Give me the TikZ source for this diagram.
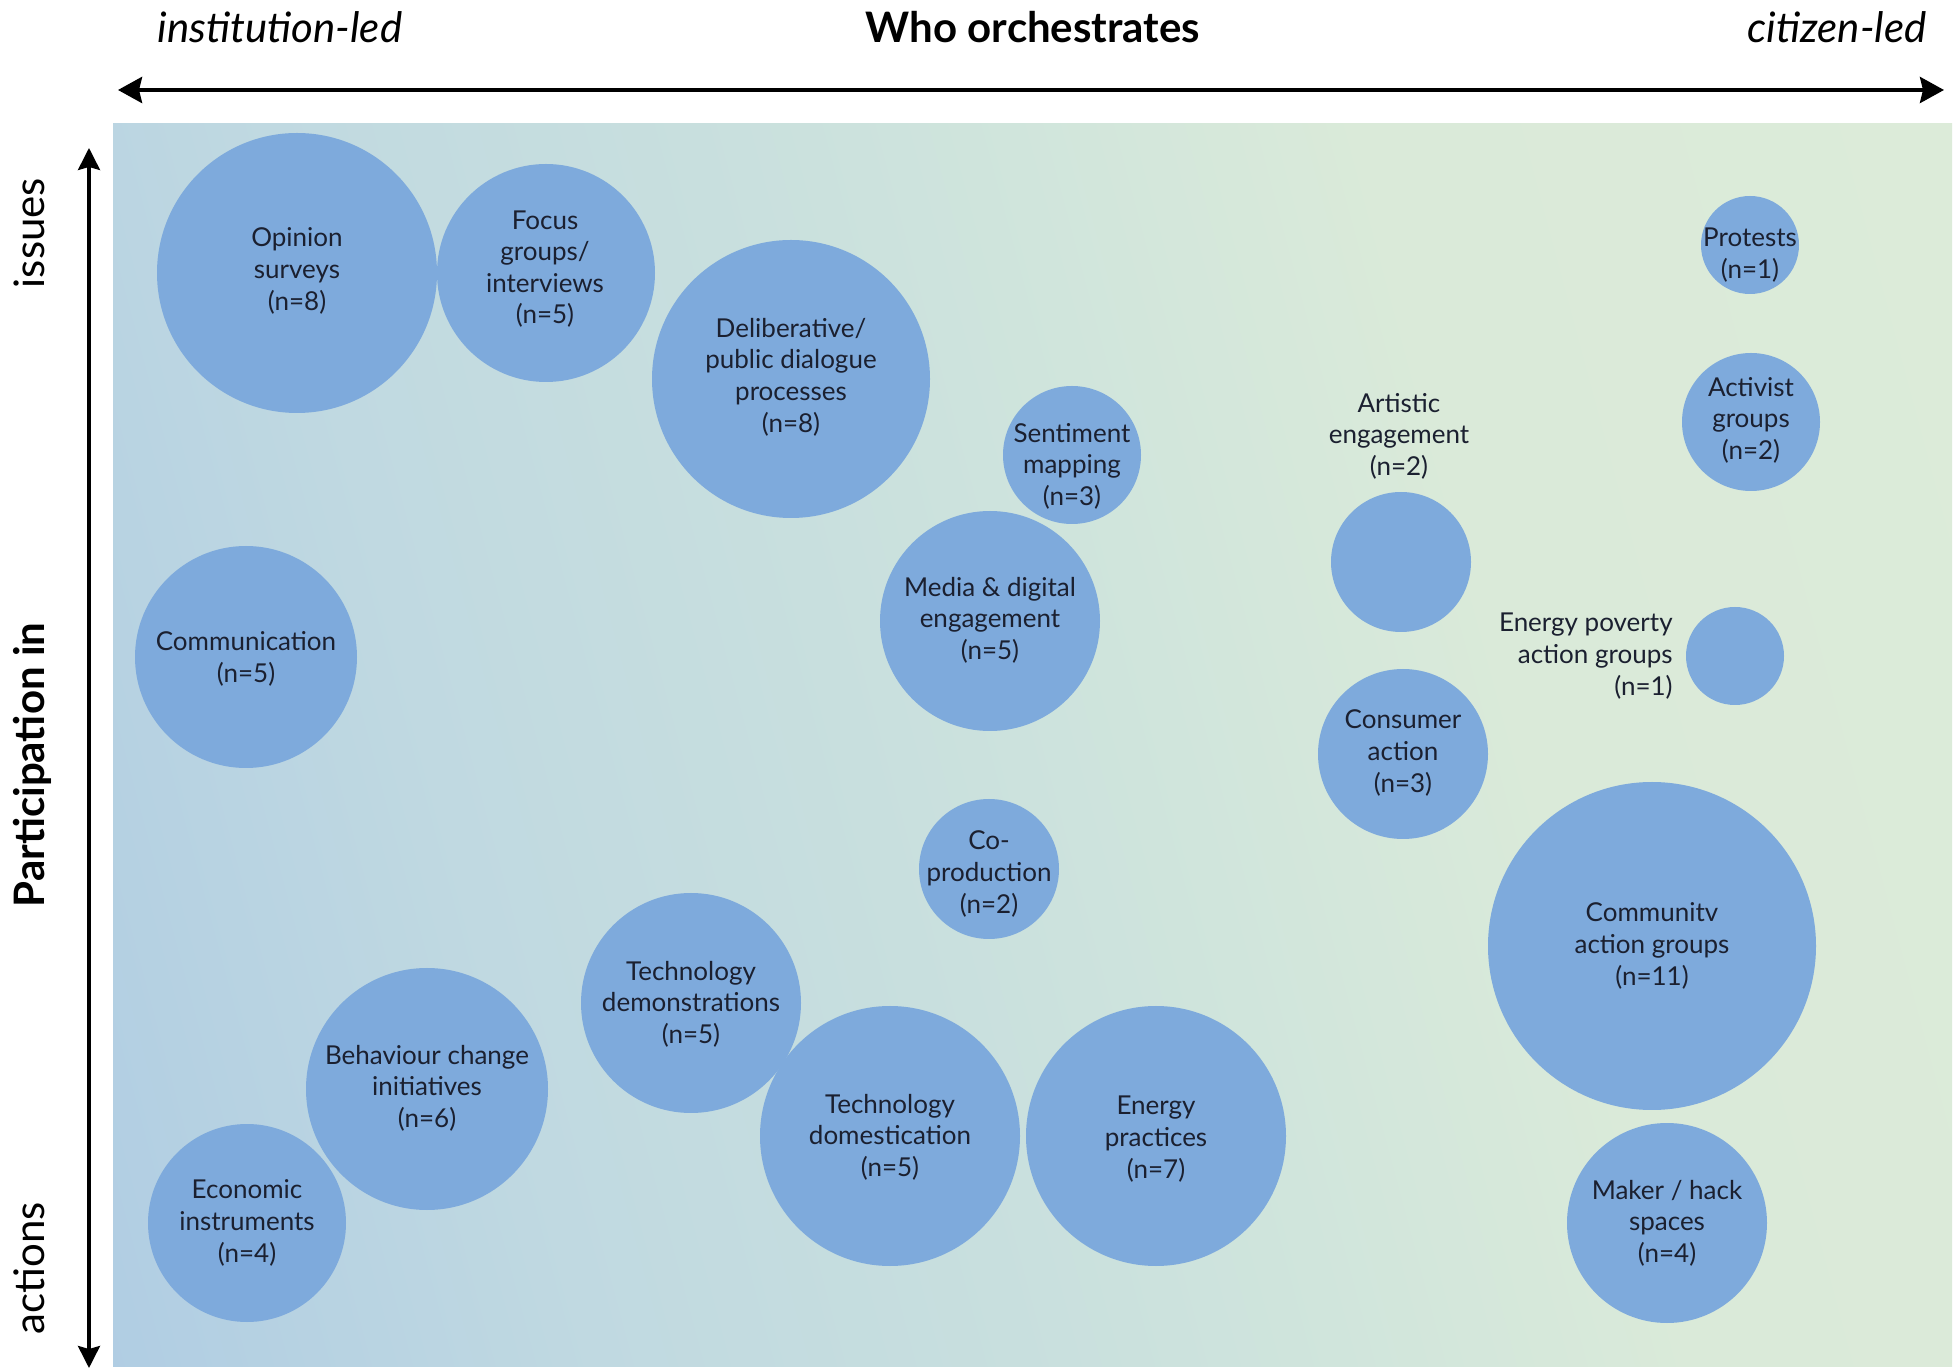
\documentclass[tikz,border=0pt]{standalone}
\usepackage{fontspec}
\setmainfont{Lato}
\usetikzlibrary{arrows.meta}
\definecolor{bubblefill}{HTML}{7EAADC}
\definecolor{txt}{HTML}{1B2030}
\definecolor{bgA}{HTML}{ADCBE3}
\definecolor{bgB}{HTML}{B0CDE3}
\definecolor{bgC}{HTML}{B8D3E2}
\definecolor{bgD}{HTML}{C0D9E1}
\definecolor{bgE}{HTML}{C8DFDE}
\definecolor{bgF}{HTML}{D0E5DC}
\definecolor{bgG}{HTML}{DAEAD9}
\definecolor{bgH}{HTML}{DEECD8}
\pgfdeclarehorizontalshading{bgshade}{100bp}{color(0bp)=(bgA); color(19bp)=(bgB); color(26bp)=(bgC); color(33bp)=(bgD); color(45bp)=(bgE); color(54bp)=(bgF); color(64bp)=(bgG); color(100bp)=(bgH)}
\begin{document}
\begin{tikzpicture}[x=0.5pt, y=-0.5pt,
  bubble/.style={circle, fill=bubblefill, inner sep=0pt, minimum size={#1pt}},
  btext/.style={align=center, text=txt, font=\fontsize{13pt}{15.8pt}\selectfont, inner sep=0pt},
  head/.style={text=black, font=\fontsize{21pt}{25pt}\selectfont, inner sep=0pt, anchor=base},
  axisline/.style={line width=2pt, {Stealth[length=12pt,width=13pt,inset=1.5pt]}-{Stealth[length=12pt,width=13pt,inset=1.5pt]}},
  vaxisline/.style={line width=1.6pt, {Stealth[length=11pt,width=11pt,inset=1.5pt]}-{Stealth[length=11pt,width=11pt,inset=1.5pt]}}
]
\useasboundingbox (0,0) rectangle (1956,1368);
\fill[white] (0,0) rectangle (1956,1368);
\shade[shading=bgshade, shading angle=15] (113,124) rectangle (1952,1366);

% axes
\coordinate (xl) at (118,90);
\coordinate (xr) at (1944,90);
\coordinate (yt) at (89,148);
\coordinate (yb) at (89,1368);
\draw[axisline] (xl) -- (xr);
\draw[vaxisline] (yt) -- (yb);

% headers
\node[head, font=\fontsize{21pt}{25pt}\selectfont\itshape] (hinst) at (280,43) {institution-led};
\node[head, font=\fontsize{21pt}{25pt}\selectfont\bfseries] (hwho) at (1033,43) {Who orchestrates};
\node[head, anchor=base east, font=\fontsize{21pt}{25pt}\selectfont\itshape] (hcit) at (1927,43) {citizen-led};
\node[head, rotate=90] (vissues) at (45,233) {issues};
\node[head, rotate=90, font=\fontsize{21pt}{25pt}\selectfont\bfseries] (vpart) at (45,765) {Participation in};
\node[head, rotate=90] (vactions) at (45,1268) {actions};

% bubbles
\node[bubble=140] (opinion) at (297,273) {};
\node[bubble=109] (focus) at (546,273) {};
\node[bubble=139] (delib) at (791,379) {};
\node[bubble=69] (senti) at (1072,455) {};
\node[bubble=110] (media) at (990,621) {};
\node[bubble=111] (comm) at (246,657) {};
\node[bubble=70] (coprod) at (989,869) {};
\node[bubble=110] (techdemo) at (691,1003) {};
\node[bubble=121] (behav) at (427,1089) {};
\node[bubble=99] (econ) at (247,1223) {};
\node[bubble=130] (techdom) at (890,1136) {};
\node[bubble=130] (enprac) at (1156,1136) {};
\node[bubble=70] (artistic) at (1401,562) {};
\node[bubble=85] (consumer) at (1403,754) {};
\node[bubble=49] (protests) at (1750,245) {};
\node[bubble=69] (activist) at (1751,422) {};
\node[bubble=49] (enpov) at (1735,656) {};
\node[bubble=164] (community) at (1652,946) {};
\node[bubble=100] (maker) at (1667,1223) {};

% labels
\node[btext] (topinion) at (297,271) {Opinion\\surveys\\(n=8)};
\node[btext] (tfocus) at (545,269) {Focus\\groups/\\interviews\\(n=5)};
\node[btext] (tdelib) at (791,377) {Deliberative/\\public dialogue\\processes\\(n=8)};
\node[btext] (tsenti) at (1072,466) {Sentiment\\mapping\\(n=3)};
\node[btext] (tmedia) at (990,620) {Media \& digital\\engagement\\(n=5)};
\node[btext] (tcomm) at (246,659) {Communication\\(n=5)};
\node[btext] (tcoprod) at (989,874) {Co-\\production\\(n=2)};
\node[btext] (ttechdemo) at (691,1004) {Technology\\demonstrations\\(n=5)};
\node[btext] (tbehav) at (427,1088) {Behaviour change\\initiatives\\(n=6)};
\node[btext] (tecon) at (247,1223) {Economic\\instruments\\(n=4)};
\node[btext] (ttechdom) at (890,1137) {Technology\\domestication\\(n=5)};
\node[btext] (tenprac) at (1156,1139) {Energy\\practices\\(n=7)};
\node[btext] (tartistic) at (1399,436) {Artistic\\engagement\\(n=2)};
\node[btext] (tconsumer) at (1403,753) {Consumer\\action\\(n=3)};
\node[btext] (tprotests) at (1750,255) {Protests\\(n=1)};
\node[btext] (tactivist) at (1751,420) {Activist\\groups\\(n=2)};
\node[btext, align=right, anchor=east] (tenpov) at (1673,656) {Energy poverty\\action groups\\(n=1)};
\node[btext] (tcommunity) at (1652,946) {Communitv\\action groups\\(n=11)};
\node[btext] (tmaker) at (1667,1223) {Maker / hack\\spaces\\(n=4)};
\end{tikzpicture}
\end{document}
